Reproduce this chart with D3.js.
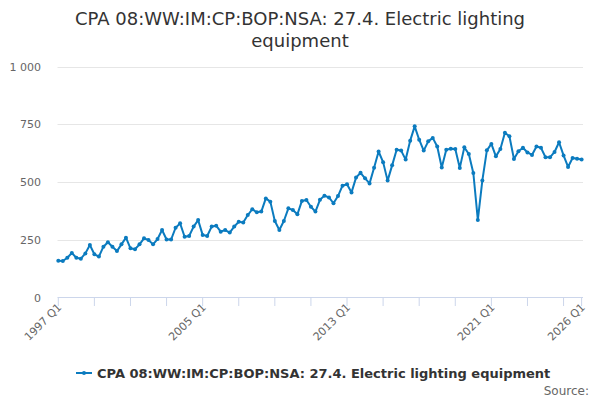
<!DOCTYPE html>
<html>
<head>
<meta charset="utf-8">
<script src="https://cdn.jsdelivr.net/npm/d3@7"></script>
<style>
  body { margin: 0; background: #fff; }
  svg { font-family: "DejaVu Sans", sans-serif; }
</style>
</head>
<body>
<svg id="chart" width="600" height="400"></svg>
<script>
const title = ["CPA 08:WW:IM:CP:BOP:NSA: 27.4. Electric lighting", "equipment"];
const seriesName = "CPA 08:WW:IM:CP:BOP:NSA: 27.4. Electric lighting equipment";
const firstYear = 1997;
const values = [
  159, 158, 172, 193, 172, 168, 191, 227, 187, 177,
  220, 239, 220, 201, 230, 259, 213, 209, 230, 256,
  249, 230, 253, 292, 251, 251, 302, 321, 263, 266,
  307, 335, 271, 266, 307, 311, 285, 292, 281, 307,
  328, 325, 357, 382, 369, 372, 429, 415, 331, 292,
  331, 386, 379, 360, 418, 422, 393, 372, 423, 441,
  433, 408, 439, 484, 490, 455, 519, 540, 516, 494,
  562, 632, 586, 506, 572, 640, 636, 597, 679, 741,
  683, 636, 676, 691, 654, 563, 640, 644, 643, 561,
  650, 621, 539, 336, 507, 637, 665, 611, 643, 713,
  698, 600, 633, 648, 628, 617, 654, 648, 607, 607,
  630, 672, 615, 565, 604, 601, 597
];
const quarters = values.map((d, i) => (firstYear + Math.floor(i / 4)) + " Q" + (i % 4 + 1));
const yTicks = [0, 250, 500, 750, 1000];
const tickEvery = 8;
const labelEvery = 32;

const svg = d3.select('#chart');
const left = 57.5, right = 583;
const x = d3.scaleLinear()
  .domain([0, values.length - 1])
  .range([58.3, 581.6]);
const y = d3.scaleLinear()
  .domain([0, 1000])
  .range([297.5, 66.5]);

// title
svg.append("g")
  .selectAll("text")
  .data(title)
  .join("text")
    .attr("x", 300)
    .attr("y", (d, i) => 25 + i * 22)
    .attr("text-anchor", "middle")
    .attr("fill", "#333")
    .style("font-size", "18px")
    .text(d => d);

// grid + y labels
const yAxis = svg.append("g");
yAxis.selectAll("line")
  .data(yTicks.filter(d => d > 0))
  .join("line")
    .attr("x1", left).attr("x2", right)
    .attr("y1", d => Math.round(y(d)) + 0.5)
    .attr("y2", d => Math.round(y(d)) + 0.5)
    .attr("stroke", "#e6e6e6");
yAxis.selectAll("text")
  .data(yTicks)
  .join("text")
    .attr("x", 41)
    .attr("y", d => y(d) + 4)
    .attr("text-anchor", "end")
    .attr("fill", "#666")
    .style("font-size", "11px")
    .text(d => d3.format(",")(d).replace(",", " "));

// x axis
const tickIdx = d3.range(0, values.length, tickEvery).concat([values.length - 1]);
const labelIdx = d3.range(0, values.length, labelEvery).concat([values.length - 1]);
const xAxis = svg.append("g");
xAxis.append("line")
  .attr("x1", left).attr("x2", right)
  .attr("y1", 297.5).attr("y2", 297.5)
  .attr("stroke", "#ccd6eb");
xAxis.selectAll("line.tick")
  .data(tickIdx)
  .join("line")
    .attr("class", "tick")
    .attr("x1", d => x(d)).attr("x2", d => x(d))
    .attr("y1", 297.5).attr("y2", 306)
    .attr("stroke", "#ccd6eb");
xAxis.selectAll("text")
  .data(labelIdx)
  .join("text")
    .attr("transform", d => `translate(${x(d) + 4},${308}) rotate(-45)`)
    .attr("text-anchor", "end")
    .attr("fill", "#666")
    .style("font-size", "11px")
    .text(d => quarters[d]);

// series
const color = "#0b7bbf";
const line = d3.line()
  .x((d, i) => x(i))
  .y(d => y(d));
svg.append("path")
  .datum(values)
  .attr("d", line)
  .attr("fill", "none")
  .attr("stroke", color)
  .attr("stroke-width", 2)
  .attr("stroke-linejoin", "round");
svg.append("g")
  .selectAll("circle")
  .data(values)
  .join("circle")
    .attr("cx", (d, i) => x(i))
    .attr("cy", d => y(d))
    .attr("r", 2)
    .attr("fill", color);

// legend
const legend = svg.append("g");
legend.append("line")
  .attr("x1", 76).attr("x2", 92)
  .attr("y1", 373).attr("y2", 373)
  .attr("stroke", color).attr("stroke-width", 2);
legend.append("circle")
  .attr("cx", 84).attr("cy", 373).attr("r", 2)
  .attr("fill", color);
legend.append("text")
  .attr("x", 97).attr("y", 378)
  .attr("fill", "#333")
  .style("font-size", "13px")
  .style("font-weight", "bold")
  .text(seriesName);

svg.append("text")
  .attr("x", 589).attr("y", 395)
  .attr("text-anchor", "end")
  .attr("fill", "#666")
  .style("font-size", "12px")
  .text("Source:");
</script>
</body>
</html>
